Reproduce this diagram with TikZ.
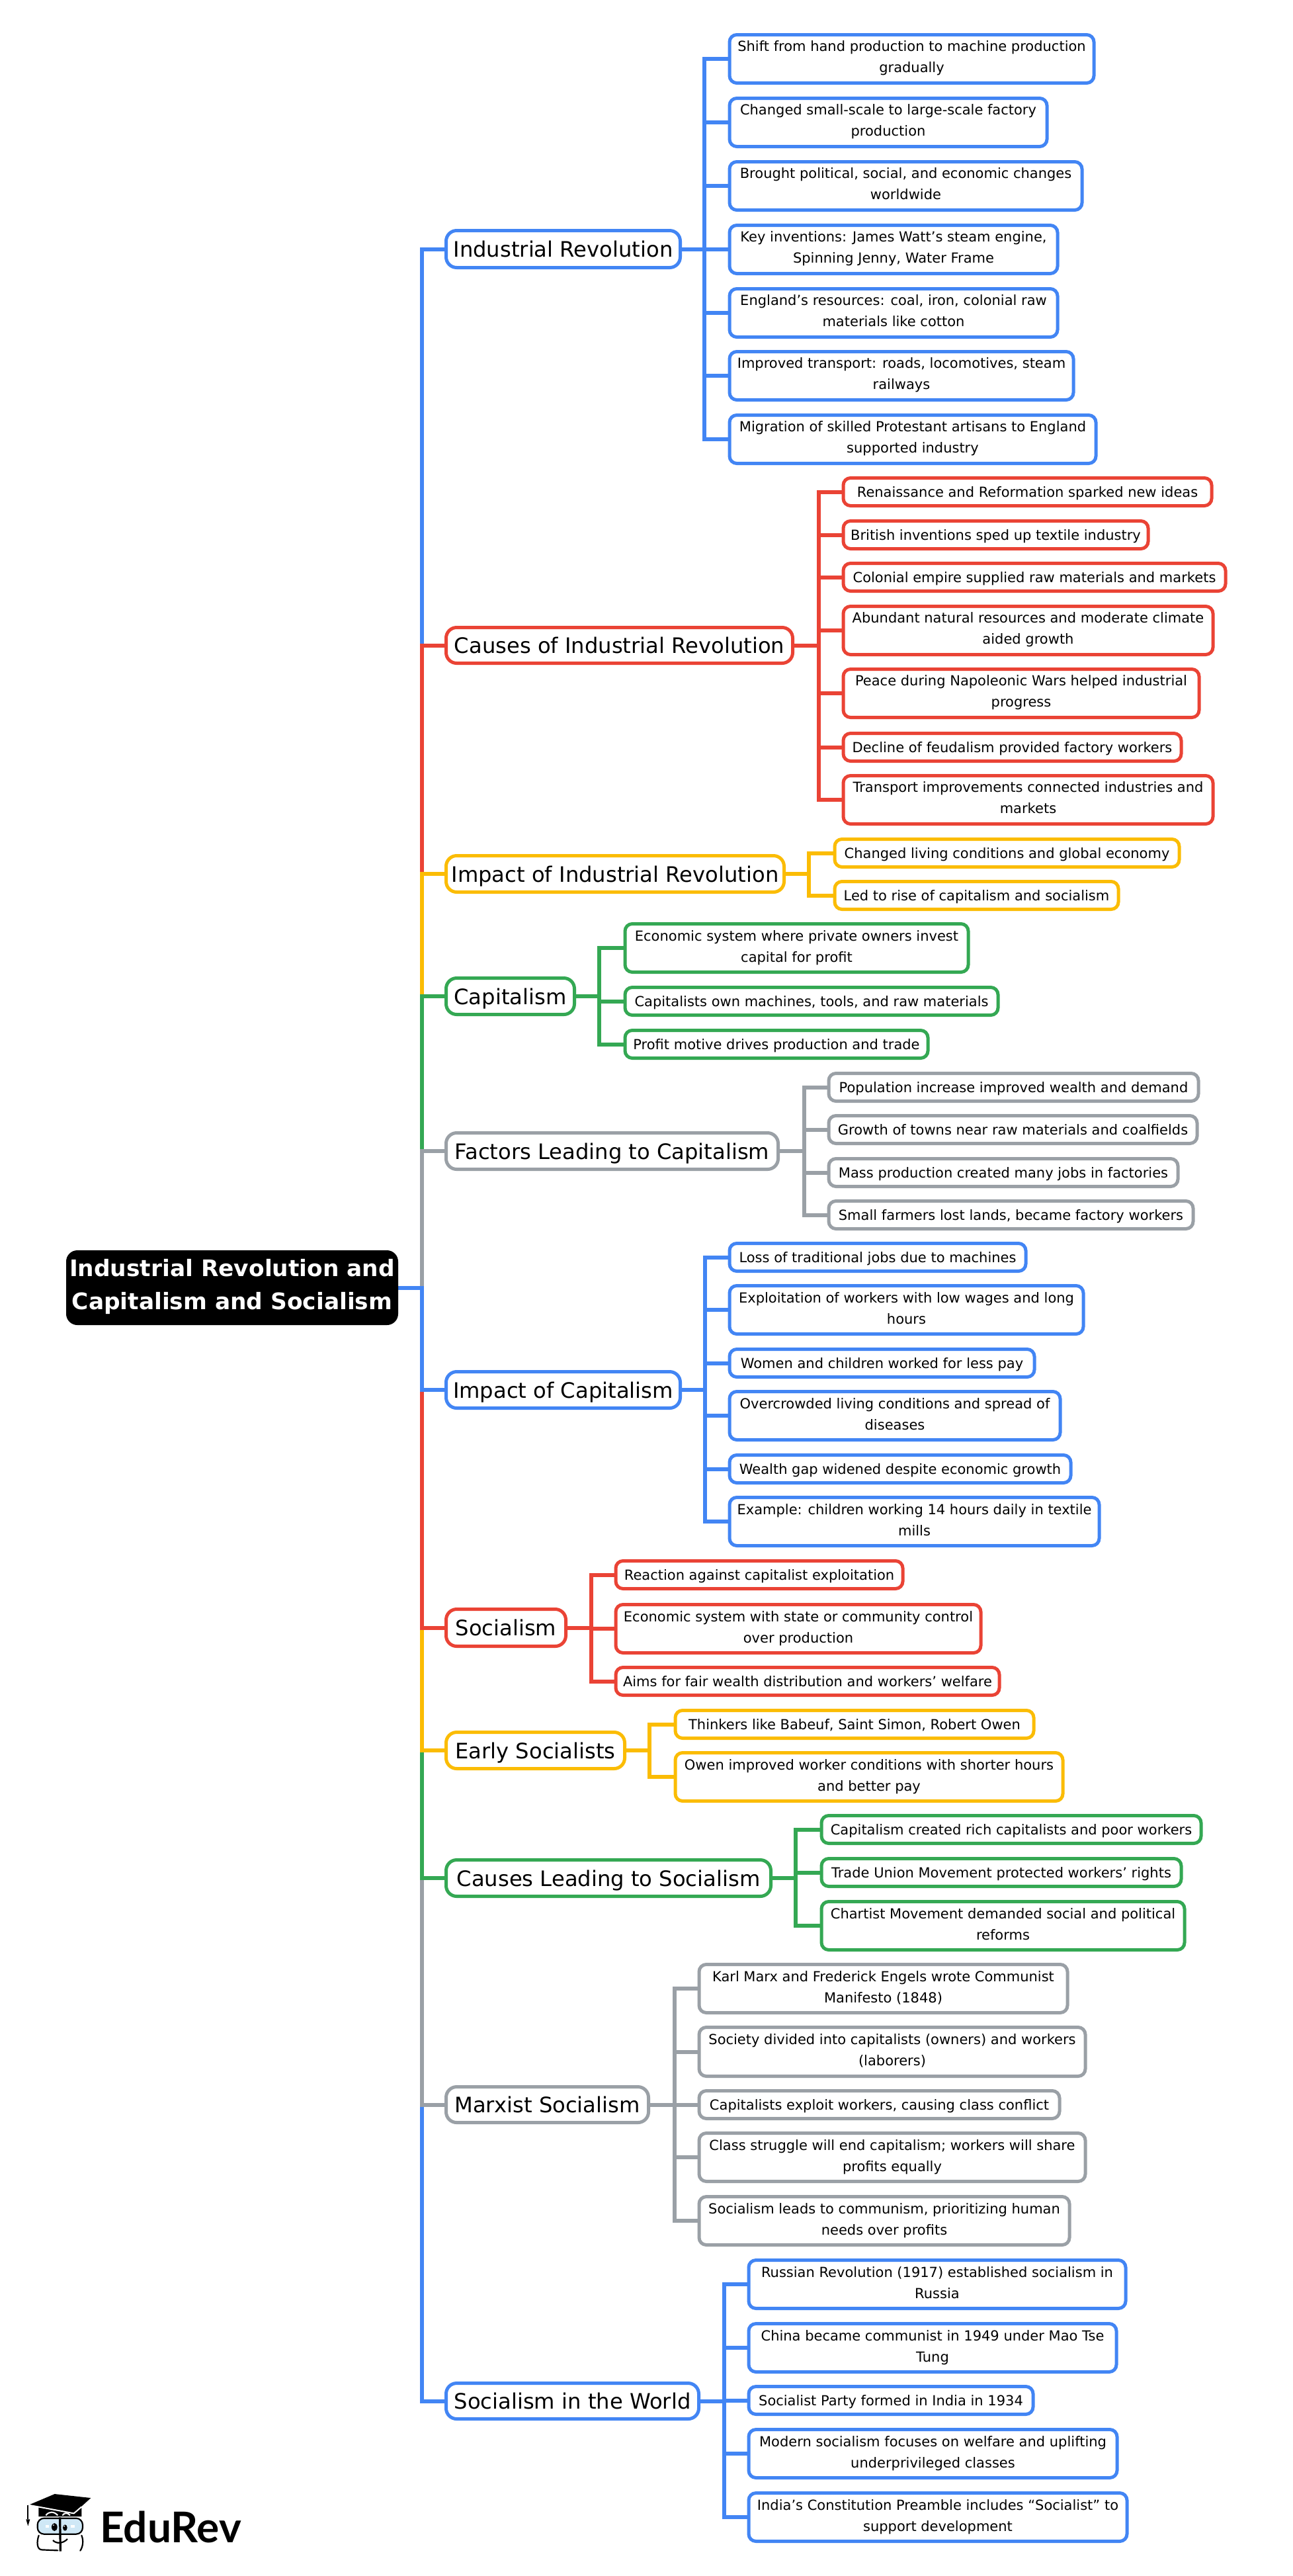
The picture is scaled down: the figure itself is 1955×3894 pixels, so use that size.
\documentclass[tikz,border=0pt]{standalone}
\usepackage{fontspec}
\setmainfont{DejaVu Sans}
\newfontfamily\logofont{Lato}
\usetikzlibrary{backgrounds}
\definecolor{cblue}{HTML}{4285F4}
\definecolor{cred}{HTML}{EA4335}
\definecolor{cyellow}{HTML}{FBBC04}
\definecolor{cgreen}{HTML}{34A853}
\definecolor{cgray}{HTML}{9AA0A6}
\definecolor{lensblue}{HTML}{CFE8F6}
\tikzset{
  boxbase/.style={shape=rectangle,align=center,inner sep=0pt,outer sep=0pt,text=black},
  topic/.style={boxbase,draw=#1,fill=white,line width=2.5pt,rounded corners=8pt,font=\fontsize{16.1}{20}\selectfont,
    execute at begin node={\rule{0pt}{17pt}},execute at end node={\rule[-5pt]{0pt}{0pt}}},
  leaf/.style={boxbase,draw=#1,fill=white,line width=2.5pt,rounded corners=5.5pt,font=\fontsize{10.5}{16}\selectfont,
    execute at begin node={\rule{0pt}{11pt}},execute at end node={\rule[-3pt]{0pt}{0pt}}},
  rootbox/.style={boxbase,draw=black,fill=black,text=white,line width=1pt,rounded corners=8pt,font=\fontsize{17.2}{25}\selectfont\bfseries,
    execute at begin node={\rule{0pt}{18pt}},execute at end node={\rule[-5.5pt]{0pt}{0pt}}},
  link/.style={draw=#1,line width=3pt,line join=miter,line cap=butt}
}
% \nd{style}{name}{x0}{x1}{y0}{y1}{text}: extents in reference pixels, less \dw and \dh for the stroke
\newcommand{\nd}[7]{%
  \pgfmathsetmacro{\nw}{(#4-#3-\dw)*0.5}%
  \pgfmathsetmacro{\nh}{(#6-#5-\dh)*0.5}%
  \pgfmathsetmacro{\ncx}{(#3+#4)/2}%
  \pgfmathsetmacro{\ncy}{(#5+#6)/2}%
  \node[#1,minimum width=\nw pt,minimum height=\nh pt] (#2) at (\ncx,\ncy) {#7};%
}
% \cn{colour}{parent}{branch coordinate}{child}
\newcommand{\cn}[4]{\draw[link=#1] (#2.east) -- (#3 |- #2.east) -- (#3 |- #4.west) -- (#4.west);}
\begin{document}
\begin{tikzpicture}[x=0.5pt,y=-0.5pt]
\useasboundingbox (0,0) rectangle (1955,3894);

\def\dw{2}\def\dh{2}
\nd{rootbox}{root}{100}{602}{1890}{2003}{Industrial Revolution and\\Capitalism and Socialism}
\coordinate (trunk) at (637.5,0);

% Topics
\def\dw{3}\def\dh{5}
\nd{topic=cblue}{ir}{673}{1030}{346}{407}{Industrial Revolution}
\nd{topic=cred}{ci}{673}{1200}{946}{1005}{Causes of Industrial Revolution}
\nd{topic=cyellow}{ii}{673}{1187}{1291}{1351}{Impact of Industrial Revolution}
\nd{topic=cgreen}{ca}{673}{870}{1476}{1536}{Capitalism}
\nd{topic=cgray}{fa}{673}{1178}{1710}{1770}{Factors Leading to Capitalism}
\nd{topic=cblue}{ic}{673}{1030}{2071}{2131}{Impact of Capitalism}
\nd{topic=cred}{so}{673}{857}{2430}{2491}{Socialism}
\nd{topic=cyellow}{es}{673}{946}{2616}{2676}{Early Socialists}
\nd{topic=cgreen}{cl}{673}{1167}{2809}{2869}{Causes Leading to Socialism}
\nd{topic=cgray}{ma}{673}{982}{3152}{3211}{Marxist Socialism}
\nd{topic=cblue}{sw}{673}{1058}{3600}{3659}{Socialism in the World}

\def\dw{0}\def\dh{3}
% Industrial Revolution
\coordinate (bir) at (1065,0);
\nd{leaf=cblue}{ir1}{1103}{1654}{51}{127}{Shift from hand production to machine production\\gradually}
\nd{leaf=cblue}{ir2}{1103}{1583}{147}{223}{Changed small-scale to large-scale factory\\production}
\nd{leaf=cblue}{ir3}{1103}{1636}{243}{319}{Brought political, social, and economic changes\\worldwide}
\nd{leaf=cblue}{ir4}{1103}{1599}{339}{415}{Key inventions: James Watt’s steam engine,\\Spinning Jenny, Water Frame}
\nd{leaf=cblue}{ir5}{1103}{1599}{435}{511}{England’s resources: coal, iron, colonial raw\\materials like cotton}
\nd{leaf=cblue}{ir6}{1103}{1623}{530}{606}{Improved transport: roads, locomotives, steam\\railways}
\nd{leaf=cblue}{ir7}{1103}{1657}{626}{702}{Migration of skilled Protestant artisans to England\\supported industry}

% Causes of Industrial Revolution
\coordinate (bci) at (1238,0);
\nd{leaf=cred}{ci1}{1275}{1832}{721}{766}{Renaissance and Reformation sparked new ideas}
\nd{leaf=cred}{ci2}{1275}{1736}{786}{831}{British inventions sped up textile industry}
\nd{leaf=cred}{ci3}{1275}{1853}{850}{895}{Colonial empire supplied raw materials and markets}
\nd{leaf=cred}{ci4}{1275}{1834}{915}{991}{Abundant natural resources and moderate climate\\aided growth}
\nd{leaf=cred}{ci5}{1275}{1813}{1010}{1086}{Peace during Napoleonic Wars helped industrial\\progress}
\nd{leaf=cred}{ci6}{1275}{1786}{1107}{1152}{Decline of feudalism provided factory workers}
\nd{leaf=cred}{ci7}{1275}{1834}{1171}{1247}{Transport improvements connected industries and\\markets}

% Impact of Industrial Revolution
\coordinate (bii) at (1223,0);
\nd{leaf=cyellow}{ii1}{1262}{1783}{1267}{1312}{Changed living conditions and global economy}
\nd{leaf=cyellow}{ii2}{1262}{1691}{1331}{1376}{Led to rise of capitalism and socialism}

% Capitalism
\coordinate (bca) at (906,0);
\nd{leaf=cgreen}{ca1}{945}{1464}{1395}{1471}{Economic system where private owners invest\\capital for profit}
\nd{leaf=cgreen}{ca2}{945}{1509}{1491}{1536}{Capitalists own machines, tools, and raw materials}
\nd{leaf=cgreen}{ca3}{945}{1403}{1556}{1601}{Profit motive drives production and trade}

% Factors Leading to Capitalism
\coordinate (bfa) at (1216,0);
\nd{leaf=cgray}{fa1}{1253}{1812}{1621}{1666}{Population increase improved wealth and demand}
\nd{leaf=cgray}{fa2}{1253}{1810}{1685}{1730}{Growth of towns near raw materials and coalfields}
\nd{leaf=cgray}{fa3}{1253}{1781}{1750}{1795}{Mass production created many jobs in factories}
\nd{leaf=cgray}{fa4}{1253}{1804}{1814}{1859}{Small farmers lost lands, became factory workers}

% Impact of Capitalism
\coordinate (bic) at (1066,0);
\nd{leaf=cblue}{ic1}{1103}{1551}{1878}{1923}{Loss of traditional jobs due to machines}
\nd{leaf=cblue}{ic2}{1103}{1638}{1942}{2018}{Exploitation of workers with low wages and long\\hours}
\nd{leaf=cblue}{ic3}{1103}{1564}{2038}{2083}{Women and children worked for less pay}
\nd{leaf=cblue}{ic4}{1103}{1603}{2102}{2178}{Overcrowded living conditions and spread of\\diseases}
\nd{leaf=cblue}{ic5}{1103}{1619}{2198}{2243}{Wealth gap widened despite economic growth}
\nd{leaf=cblue}{ic6}{1103}{1662}{2262}{2338}{Example: children working 14 hours daily in textile\\mills}

% Socialism
\coordinate (bso) at (894,0);
\nd{leaf=cred}{so1}{931}{1365}{2358}{2403}{Reaction against capitalist exploitation}
\nd{leaf=cred}{so2}{931}{1483}{2424}{2500}{Economic system with state or community control\\over production}
\nd{leaf=cred}{so3}{931}{1511}{2519}{2564}{Aims for fair wealth distribution and workers’ welfare}

% Early Socialists
\coordinate (bes) at (982,0);
\nd{leaf=cyellow}{es1}{1021}{1563}{2584}{2629}{Thinkers like Babeuf, Saint Simon, Robert Owen}
\nd{leaf=cyellow}{es2}{1021}{1607}{2648}{2724}{Owen improved worker conditions with shorter hours\\and better pay}

% Causes Leading to Socialism
\coordinate (bcl) at (1203,0);
\nd{leaf=cgreen}{cl1}{1242}{1816}{2743}{2788}{Capitalism created rich capitalists and poor workers}
\nd{leaf=cgreen}{cl2}{1242}{1786}{2808}{2853}{Trade Union Movement protected workers’ rights}
\nd{leaf=cgreen}{cl3}{1242}{1791}{2873}{2949}{Chartist Movement demanded social and political\\reforms}

% Marxist Socialism
\coordinate (bma) at (1020,0);
\nd{leaf=cgray}{ma1}{1057}{1614}{2968}{3044}{Karl Marx and Frederick Engels wrote Communist\\Manifesto (1848)}
\nd{leaf=cgray}{ma2}{1057}{1641}{3063}{3140}{Society divided into capitalists (owners) and workers\\(laborers)}
\nd{leaf=cgray}{ma3}{1057}{1602}{3159}{3204}{Capitalists exploit workers, causing class conflict}
\nd{leaf=cgray}{ma4}{1057}{1641}{3223}{3299}{Class struggle will end capitalism; workers will share\\profits equally}
\nd{leaf=cgray}{ma5}{1057}{1617}{3319}{3395}{Socialism leads to communism, prioritizing human\\needs over profits}

% Socialism in the World
\coordinate (bsw) at (1095,0);
\nd{leaf=cblue}{sw1}{1132}{1702}{3415}{3491}{Russian Revolution (1917) established socialism in\\Russia}
\nd{leaf=cblue}{sw2}{1132}{1688}{3511}{3587}{China became communist in 1949 under Mao Tse\\Tung}
\nd{leaf=cblue}{sw3}{1132}{1562}{3606}{3651}{Socialist Party formed in India in 1934}
\nd{leaf=cblue}{sw4}{1132}{1689}{3671}{3747}{Modern socialism focuses on welfare and uplifting\\underprivileged classes}
\nd{leaf=cblue}{sw5}{1132}{1704}{3767}{3843}{India’s Constitution Preamble includes “Socialist” to\\support development}

\begin{scope}[on background layer]
  \fill[white] (0,0) rectangle (1955,3894);
  % Trunk: upper branches, nearest last; lower branches, nearest last
  \cn{cblue}{root}{trunk}{ir}
  \cn{cred}{root}{trunk}{ci}
  \cn{cyellow}{root}{trunk}{ii}
  \cn{cgreen}{root}{trunk}{ca}
  \cn{cgray}{root}{trunk}{fa}
  \cn{cblue}{root}{trunk}{sw}
  \cn{cgray}{root}{trunk}{ma}
  \cn{cgreen}{root}{trunk}{cl}
  \cn{cyellow}{root}{trunk}{es}
  \cn{cred}{root}{trunk}{so}
  \cn{cblue}{root}{trunk}{ic}
  % Leaves
  \foreach \i in {1,...,7} {\cn{cblue}{ir}{bir}{ir\i}}
  \foreach \i in {1,...,7} {\cn{cred}{ci}{bci}{ci\i}}
  \foreach \i in {1,2} {\cn{cyellow}{ii}{bii}{ii\i}}
  \foreach \i in {1,2,3} {\cn{cgreen}{ca}{bca}{ca\i}}
  \foreach \i in {1,...,4} {\cn{cgray}{fa}{bfa}{fa\i}}
  \foreach \i in {1,...,6} {\cn{cblue}{ic}{bic}{ic\i}}
  \foreach \i in {1,2,3} {\cn{cred}{so}{bso}{so\i}}
  \foreach \i in {1,2} {\cn{cyellow}{es}{bes}{es\i}}
  \foreach \i in {1,2,3} {\cn{cgreen}{cl}{bcl}{cl\i}}
  \foreach \i in {1,...,5} {\cn{cgray}{ma}{bma}{ma\i}}
  \foreach \i in {1,...,5} {\cn{cblue}{sw}{bsw}{sw\i}}
\end{scope}

% Logo (coordinates are 3x reference pixels from (0,3660))
\begin{scope}[shift={(0,3660)},x=0.16667pt,y=-0.16667pt]
  \fill[black] (175,388) -- (335,420) -- (370,392) -- (370,432) -- (175,432) -- cycle;
  \fill[black] (130,380) -- (248,330) -- (412,348) -- (335,418) -- cycle;
  \draw[white,line width=1pt] (130,380) -- (335,418) -- (370,388);
  \draw[white,line width=1pt] (208,427) .. controls (222,408) and (245,408) .. (262,427);
  \draw[white,line width=1pt] (283,427) .. controls (292,414) and (308,414) .. (318,427);
  \draw[black,line width=1pt] (127,380) -- (127,445);
  \fill[black] (118,445) -- (136,445) -- (127,475) -- cycle;
  \draw[black,fill=lensblue,line width=1.1pt,rounded corners=5pt] (170,440) rectangle (375,512);
  \draw[black,line width=1.1pt,line cap=round] (176,518) .. controls (166,545) and (166,582) .. (190,583) -- (262,586);
  \draw[black,line width=1.1pt,line cap=round] (370,518) .. controls (380,540) and (376,570) .. (364,587);
  \draw[black,line width=1.1pt] (240,540) .. controls (255,556) and (285,556) .. (306,534);
  \draw[black,line width=1.6pt] (272,436) -- (274,590);
  \fill[black] (247,480) ellipse [x radius=13,y radius=18];
  \fill[black] (295,483) ellipse [x radius=10,y radius=14];
  \fill[white] (243,471) circle [radius=3];
  \fill[white] (292,476) circle [radius=3];
  \fill[white] (208,470) rectangle (222,484);
  \fill[white] (322,470) rectangle (338,484);
  \node[inner sep=0pt,anchor=base west,text=black,font=\logofont\fontsize{32}{32}\selectfont\bfseries] (edurev) at (452,550) {EduRev};
\end{scope}
\end{tikzpicture}
\end{document}
